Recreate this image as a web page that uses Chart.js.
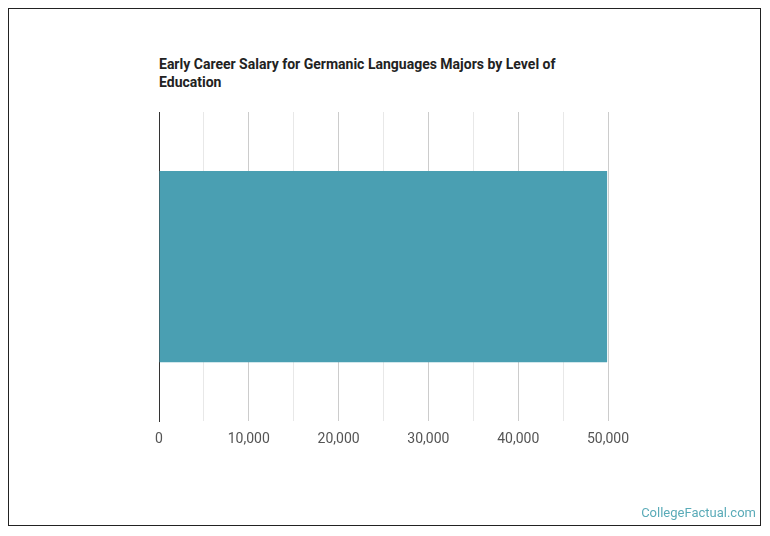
<!DOCTYPE html>
<html>
<head>
<meta charset="utf-8">
<script src="https://cdn.jsdelivr.net/npm/chart.js@4"></script>
<style>
  html, body { margin: 0; padding: 0; background: #fff; }
  body { width: 770px; height: 536px; position: relative; font-family: Roboto, sans-serif; }
  .frame { position: absolute; left: 8px; top: 8px; width: 753px; height: 518px; border: 1px solid #222; box-sizing: border-box; }
  .title { position: absolute; left: 159px; top: 55px; width: 430px; font-size: 14px; font-weight: bold; line-height: 18px; color: #222; }
  .brand { position: absolute; right: 14px; top: 505px; font-size: 13px; color: #5aabb8; }
  #wrap { position: absolute; left: 0; top: 0; width: 770px; height: 536px; }
</style>
</head>
<body>
<div class="frame"></div>
<div class="title">Early Career Salary for Germanic Languages Majors by Level of Education</div>
<div id="wrap"><canvas id="salaryChart"></canvas></div>
<div class="brand">CollegeFactual.com</div>
<script>
// data
const categories = ["Bachelor's Degree"];
const salaries = [49900];
const xTicks = [0, 10000, 20000, 30000, 40000, 50000];

const barColor = '#4a9fb2';

new Chart(document.getElementById('salaryChart'), {
  type: 'bar',
  data: {
    labels: categories,
    datasets: [{
      data: salaries,
      backgroundColor: barColor,
      borderWidth: 0,
      barPercentage: 0.618,
      categoryPercentage: 1.0,
    }],
  },
  options: {
    indexAxis: 'y',
    responsive: true,
    maintainAspectRatio: false,
    animation: false,
    layout: { padding: { left: 159, right: 162, top: 112, bottom: 78 } },
    plugins: { legend: { display: false }, title: { display: false }, tooltip: { enabled: false } },
    scales: {
      x: {
        min: 0,
        max: xTicks[xTicks.length - 1],
        ticks: {
          stepSize: 5000,
          color: '#555',
          font: { family: 'Roboto', size: 14 },
          padding: 10,
          maxRotation: 0,
          autoSkip: false,
          callback: v => xTicks.includes(v) ? v.toLocaleString('en-US') : '',
        },
        grid: {
          drawTicks: false,
          color: ctx => (ctx.tick && ctx.tick.value % 10000 === 0) ? '#cccccc' : '#e8e8e8',
          lineWidth: 1,
        },
        border: { display: false },
      },
      y: {
        ticks: { display: false },
        grid: { display: false, drawTicks: false },
        border: { display: true, color: '#333', width: 1 },
      },
    },
  },
});
</script>
</body>
</html>
